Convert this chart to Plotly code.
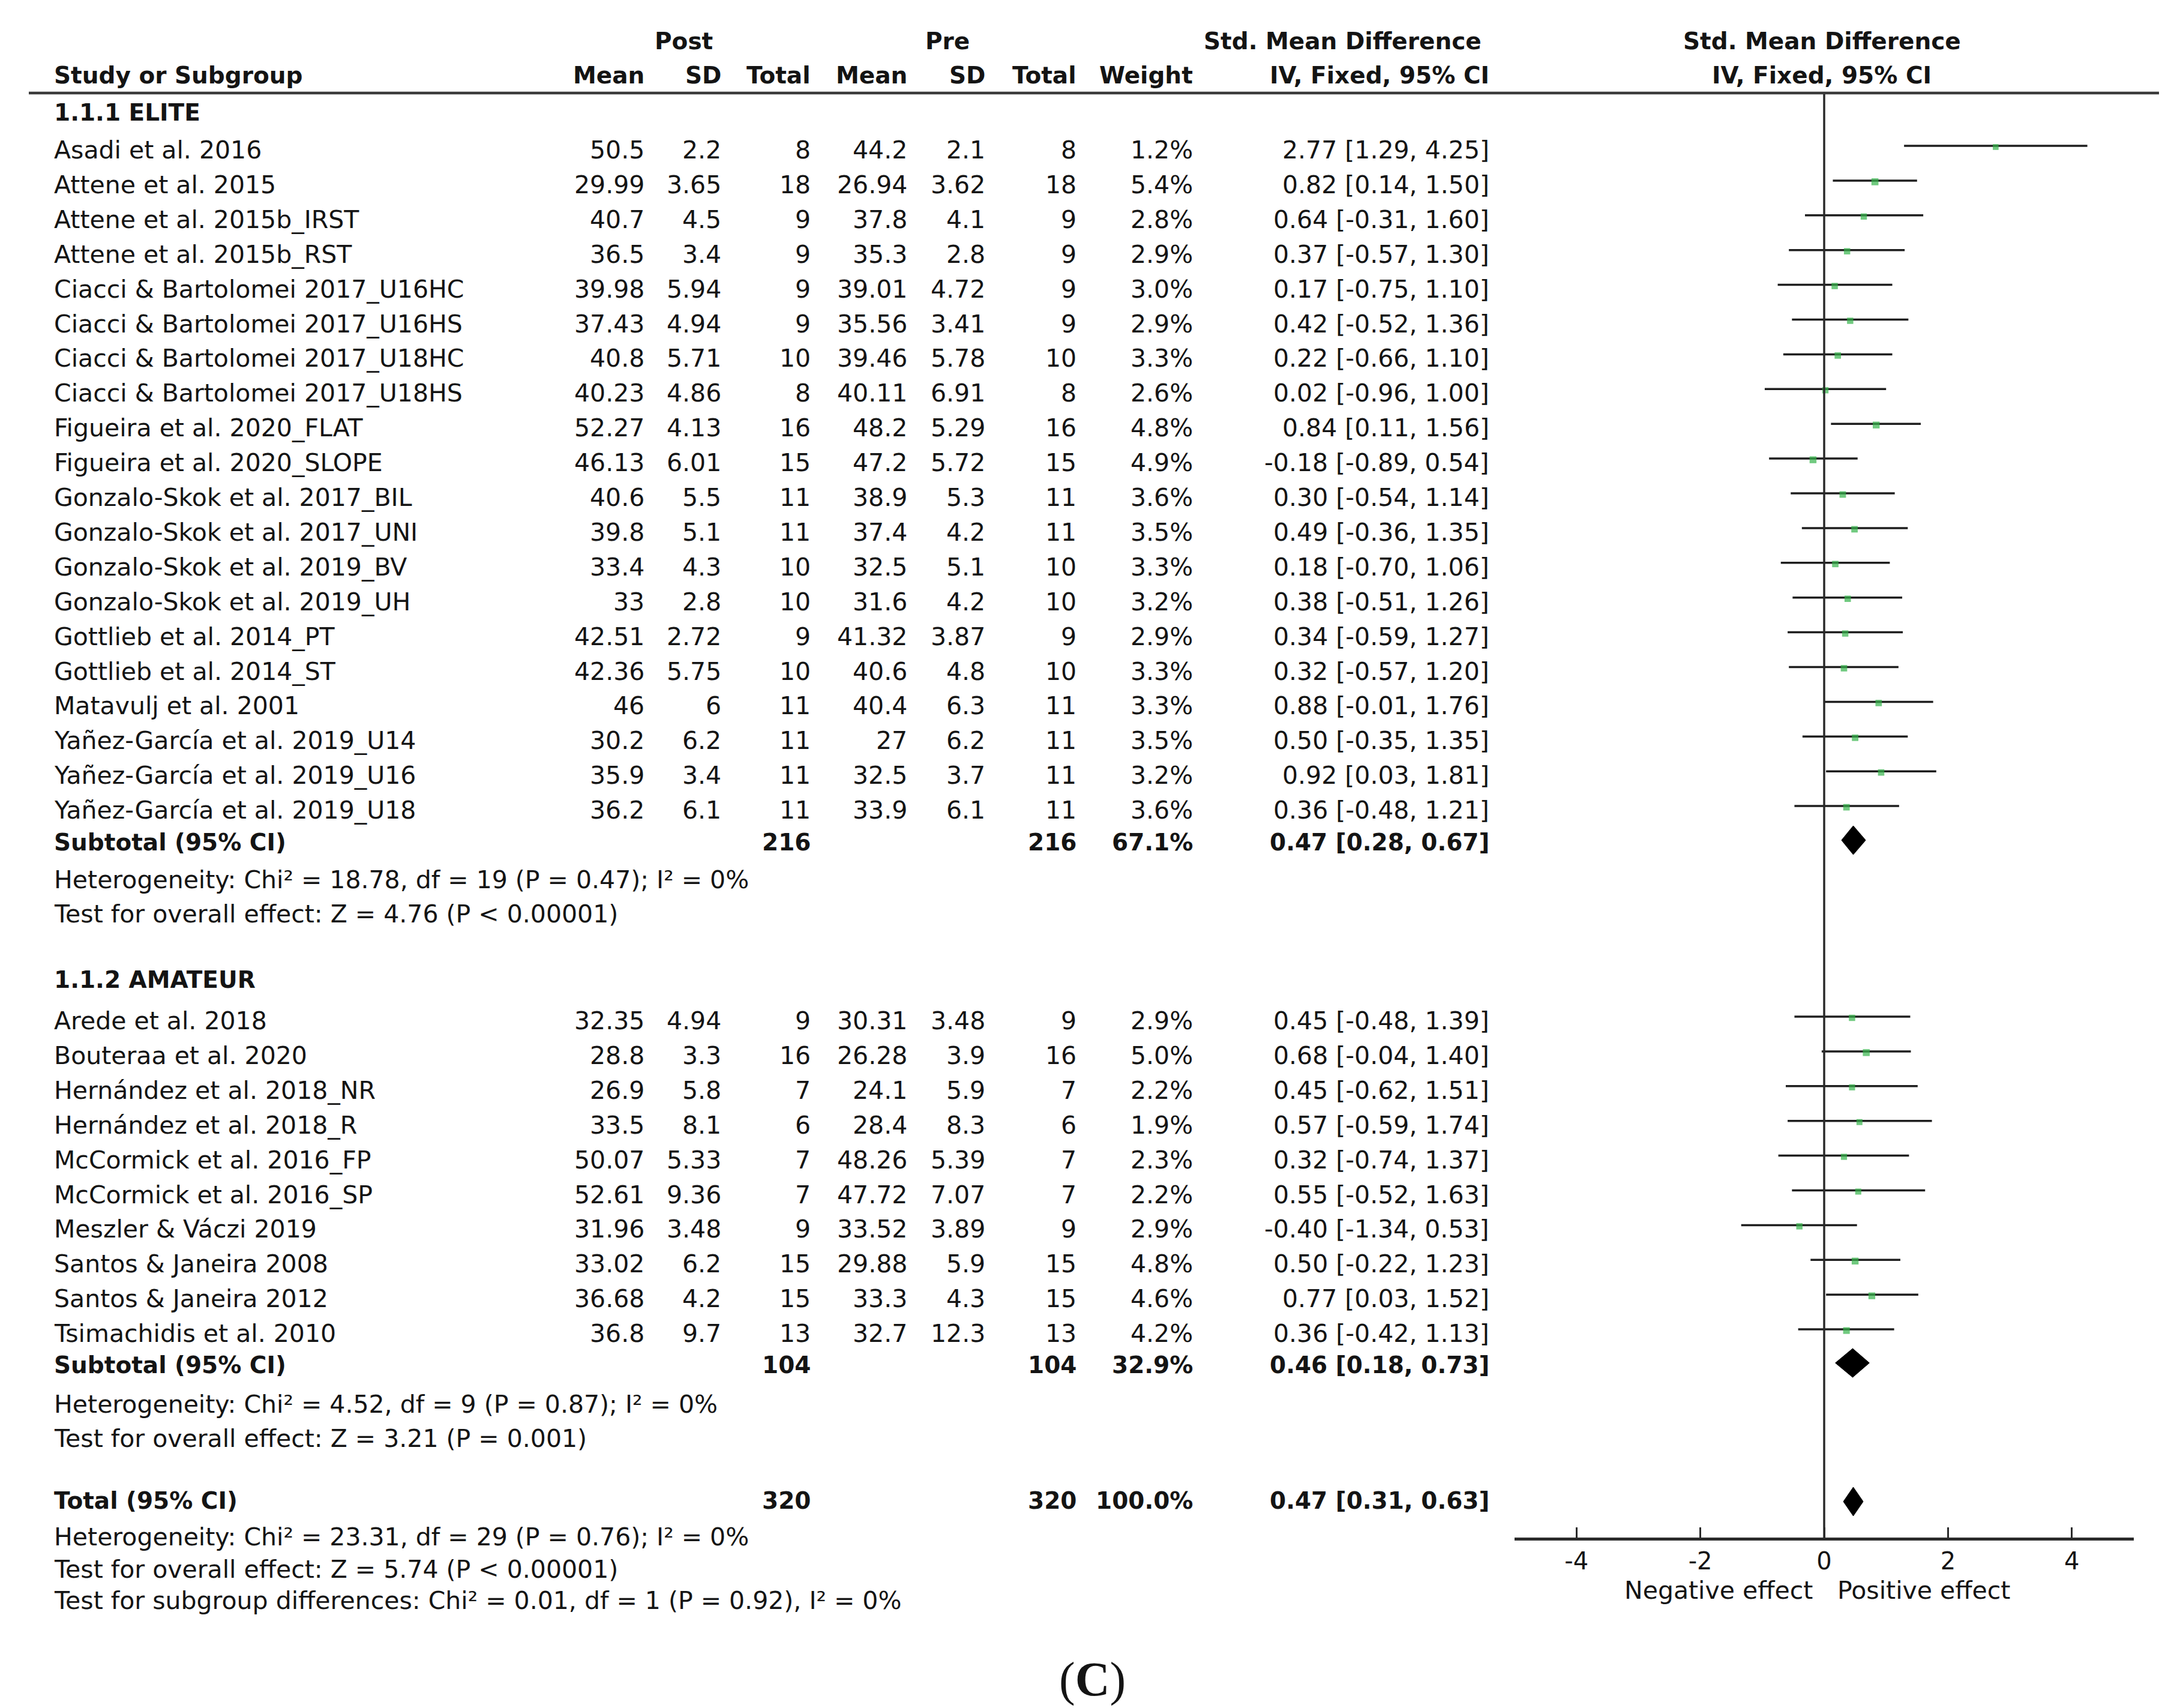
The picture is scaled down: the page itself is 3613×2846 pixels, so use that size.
import plotly.graph_objects as go

W, H = 3613, 2846

# ---------------- data ----------------
elite_names = ["Asadi et al. 2016", "Attene et al. 2015", "Attene et al. 2015b_IRST", "Attene et al. 2015b_RST",
               "Ciacci & Bartolomei 2017_U16HC", "Ciacci & Bartolomei 2017_U16HS", "Ciacci & Bartolomei 2017_U18HC",
               "Ciacci & Bartolomei 2017_U18HS", "Figueira et al. 2020_FLAT", "Figueira et al. 2020_SLOPE",
               "Gonzalo-Skok et al. 2017_BIL", "Gonzalo-Skok et al. 2017_UNI", "Gonzalo-Skok et al. 2019_BV",
               "Gonzalo-Skok et al. 2019_UH", "Gottlieb et al. 2014_PT", "Gottlieb et al. 2014_ST",
               "Matavulj et al. 2001", "Yañez-García et al. 2019_U14", "Yañez-García et al. 2019_U16",
               "Yañez-García et al. 2019_U18"]
elite_post_mean = [50.5, 29.99, 40.7, 36.5, 39.98, 37.43, 40.8, 40.23, 52.27, 46.13, 40.6, 39.8, 33.4, 33, 42.51, 42.36, 46, 30.2, 35.9, 36.2]
elite_post_sd = [2.2, 3.65, 4.5, 3.4, 5.94, 4.94, 5.71, 4.86, 4.13, 6.01, 5.5, 5.1, 4.3, 2.8, 2.72, 5.75, 6, 6.2, 3.4, 6.1]
elite_post_n = [8, 18, 9, 9, 9, 9, 10, 8, 16, 15, 11, 11, 10, 10, 9, 10, 11, 11, 11, 11]
elite_pre_mean = [44.2, 26.94, 37.8, 35.3, 39.01, 35.56, 39.46, 40.11, 48.2, 47.2, 38.9, 37.4, 32.5, 31.6, 41.32, 40.6, 40.4, 27, 32.5, 33.9]
elite_pre_sd = [2.1, 3.62, 4.1, 2.8, 4.72, 3.41, 5.78, 6.91, 5.29, 5.72, 5.3, 4.2, 5.1, 4.2, 3.87, 4.8, 6.3, 6.2, 3.7, 6.1]
elite_pre_n = [8, 18, 9, 9, 9, 9, 10, 8, 16, 15, 11, 11, 10, 10, 9, 10, 11, 11, 11, 11]
elite_weight = [1.2, 5.4, 2.8, 2.9, 3.0, 2.9, 3.3, 2.6, 4.8, 4.9, 3.6, 3.5, 3.3, 3.2, 2.9, 3.3, 3.3, 3.5, 3.2, 3.6]
elite_smd = [2.77, 0.82, 0.64, 0.37, 0.17, 0.42, 0.22, 0.02, 0.84, -0.18, 0.30, 0.49, 0.18, 0.38, 0.34, 0.32, 0.88, 0.50, 0.92, 0.36]
elite_lo = [1.29, 0.14, -0.31, -0.57, -0.75, -0.52, -0.66, -0.96, 0.11, -0.89, -0.54, -0.36, -0.70, -0.51, -0.59, -0.57, -0.01, -0.35, 0.03, -0.48]
elite_hi = [4.25, 1.50, 1.60, 1.30, 1.10, 1.36, 1.10, 1.00, 1.56, 0.54, 1.14, 1.35, 1.06, 1.26, 1.27, 1.20, 1.76, 1.35, 1.81, 1.21]

amat_names = ["Arede et al. 2018", "Bouteraa et al. 2020", "Hernández et al. 2018_NR", "Hernández et al. 2018_R",
              "McCormick et al. 2016_FP", "McCormick et al. 2016_SP", "Meszler & Váczi 2019",
              "Santos & Janeira 2008", "Santos & Janeira 2012", "Tsimachidis et al. 2010"]
amat_post_mean = [32.35, 28.8, 26.9, 33.5, 50.07, 52.61, 31.96, 33.02, 36.68, 36.8]
amat_post_sd = [4.94, 3.3, 5.8, 8.1, 5.33, 9.36, 3.48, 6.2, 4.2, 9.7]
amat_post_n = [9, 16, 7, 6, 7, 7, 9, 15, 15, 13]
amat_pre_mean = [30.31, 26.28, 24.1, 28.4, 48.26, 47.72, 33.52, 29.88, 33.3, 32.7]
amat_pre_sd = [3.48, 3.9, 5.9, 8.3, 5.39, 7.07, 3.89, 5.9, 4.3, 12.3]
amat_pre_n = [9, 16, 7, 6, 7, 7, 9, 15, 15, 13]
amat_weight = [2.9, 5.0, 2.2, 1.9, 2.3, 2.2, 2.9, 4.8, 4.6, 4.2]
amat_smd = [0.45, 0.68, 0.45, 0.57, 0.32, 0.55, -0.40, 0.50, 0.77, 0.36]
amat_lo = [-0.48, -0.04, -0.62, -0.59, -0.74, -0.52, -1.34, -0.22, 0.03, -0.42]
amat_hi = [1.39, 1.40, 1.51, 1.74, 1.37, 1.63, 0.53, 1.23, 1.52, 1.13]

group_titles = ["1.1.1 ELITE", "1.1.2 AMATEUR"]
sub_n_post = [216, 104]
sub_n_pre = [216, 104]
sub_weight = [67.1, 32.9]
sub_smd = [0.47, 0.46]
sub_lo = [0.28, 0.18]
sub_hi = [0.67, 0.73]
sub_chi2 = [18.78, 4.52]
sub_df = [19, 9]
sub_p = [0.47, 0.87]
sub_i2 = [0, 0]
sub_z = [4.76, 3.21]
sub_pz = ["< 0.00001", "= 0.001"]

tot_n_post, tot_n_pre, tot_weight = 320, 320, 100.0
tot_smd, tot_lo, tot_hi = 0.47, 0.31, 0.63
tot_chi2, tot_df, tot_p, tot_i2 = 23.31, 29, 0.76, 0
tot_z, tot_pz = 5.74, "< 0.00001"
diff_chi2, diff_df, diff_p, diff_i2 = 0.01, 1, 0.92, 0

x_ticks = [-4, -2, 0, 2, 4]
x_range = [-5, 5]

# ---------------- layout constants (pixels) ----------------
FONT = "DejaVu Sans"
REG = 41
BOLD = 39
COL = "#141414"
X_NAME = 80
X_POST_MEAN, X_POST_SD, X_POST_N = 1068, 1196, 1345
X_PRE_MEAN, X_PRE_SD, X_PRE_N = 1506, 1636, 1788
X_WEIGHT, X_CI = 1982, 2476
FOREST_L, FOREST_R = 2516, 3548
AXIS_Y = 2554
HEADER_LINE_Y = 147
PITCH = 57.9
TEXT_DY = 0   # text box offset relative to visual centre

annotations = []


def ann(text, x, y, anchor="left", bold=False, size=None, family=FONT):
    if bold:
        text = "<b>" + text + "</b>"
    annotations.append(dict(
        text=text, x=x / W, y=1 - (y + TEXT_DY) / H, xref="paper", yref="paper",
        xanchor=anchor, yanchor="middle", showarrow=False,
        font=dict(family=family, size=size or (BOLD if bold else REG), color=COL),
    ))


def ci_text(e, lo, hi):
    return f"{e:.2f} [{lo:.2f}, {hi:.2f}]"


# headers
ann("Post", 1131, 61, "center", True)
ann("Pre", 1571, 61, "center", True)
ann("Std. Mean Difference", 2229, 61, "center", True)
ann("Std. Mean Difference", 3028, 61, "center", True)
ann("Study or Subgroup", X_NAME, 117, "left", True)
for txt, xx in [("Mean", X_POST_MEAN), ("SD", X_POST_SD), ("Total", X_POST_N),
                ("Mean", X_PRE_MEAN), ("SD", X_PRE_SD), ("Total", X_PRE_N),
                ("Weight", X_WEIGHT), ("IV, Fixed, 95% CI", X_CI)]:
    ann(txt, xx, 117, "right", True)
ann("IV, Fixed, 95% CI", 3028, 117, "center", True)

groups = [
    (elite_names, elite_post_mean, elite_post_sd, elite_post_n, elite_pre_mean, elite_pre_sd, elite_pre_n,
     elite_weight, elite_smd, elite_lo, elite_hi),
    (amat_names, amat_post_mean, amat_post_sd, amat_post_n, amat_pre_mean, amat_pre_sd, amat_pre_n,
     amat_weight, amat_smd, amat_lo, amat_hi),
]
group_title_y = [179, 1624]
group_first_y = [242, 1693]
sub_y = [1395, 2266]
het_y = [1458, 2332]
test_y = [1515, 2389]

ci_x, ci_y = [], []
mk_x, mk_y, mk_s = [], [], []
diamonds = []

for g, data in enumerate(groups):
    names, pm, psd, pn, qm, qsd, qn, wt, smd, lo, hi = data
    ann(group_titles[g], X_NAME, group_title_y[g], "left", True)
    for i in range(len(names)):
        y = group_first_y[g] + i * PITCH
        ann(names[i], X_NAME, y)
        ann(str(pm[i]), X_POST_MEAN, y, "right")
        ann(str(psd[i]), X_POST_SD, y, "right")
        ann(str(pn[i]), X_POST_N, y, "right")
        ann(str(qm[i]), X_PRE_MEAN, y, "right")
        ann(str(qsd[i]), X_PRE_SD, y, "right")
        ann(str(qn[i]), X_PRE_N, y, "right")
        ann(f"{wt[i]:.1f}%", X_WEIGHT, y, "right")
        ann(ci_text(smd[i], lo[i], hi[i]), X_CI, y, "right")
        ly = y - 7
        ci_x += [lo[i], hi[i], None]
        ci_y += [ly, ly, None]
        mk_x.append(smd[i])
        mk_y.append(ly + 2)
        mk_s.append(9 + 0.5 * wt[i])
    ys = sub_y[g]
    ann("Subtotal (95% CI)", X_NAME, ys, "left", True)
    ann(str(sub_n_post[g]), X_POST_N, ys, "right", True)
    ann(str(sub_n_pre[g]), X_PRE_N, ys, "right", True)
    ann(f"{sub_weight[g]:.1f}%", X_WEIGHT, ys, "right", True)
    ann(ci_text(sub_smd[g], sub_lo[g], sub_hi[g]), X_CI, ys, "right", True)
    diamonds.append((sub_lo[g], sub_smd[g], sub_hi[g], ys - 3))
    ann(f"Heterogeneity: Chi² = {sub_chi2[g]:.2f}, df = {sub_df[g]} (P = {sub_p[g]:.2f}); "
        f"I² = {sub_i2[g]}%", X_NAME, het_y[g])
    ann(f"Test for overall effect: Z = {sub_z[g]:.2f} (P {sub_pz[g]})", X_NAME, test_y[g])

# total
YT = 2492
ann("Total (95% CI)", X_NAME, YT, "left", True)
ann(str(tot_n_post), X_POST_N, YT, "right", True)
ann(str(tot_n_pre), X_PRE_N, YT, "right", True)
ann(f"{tot_weight:.1f}%", X_WEIGHT, YT, "right", True)
ann(ci_text(tot_smd, tot_lo, tot_hi), X_CI, YT, "right", True)
diamonds.append((tot_lo, tot_smd, tot_hi, YT + 2))
ann(f"Heterogeneity: Chi² = {tot_chi2:.2f}, df = {tot_df} (P = {tot_p:.2f}); "
    f"I² = {tot_i2}%", X_NAME, 2553)
ann(f"Test for overall effect: Z = {tot_z:.2f} (P {tot_pz})", X_NAME, 2607)
ann(f"Test for subgroup differences: Chi² = {diff_chi2:.2f}, df = {diff_df} (P = {diff_p:.2f}), "
    f"I² = {diff_i2}%", X_NAME, 2659)

ann("Negative effect", 3015, 2642, "right")
ann("Positive effect", 3052, 2642, "left")
ann("(<b>C</b>)", 1812, 2790, "center", size=80, family="Liberation Serif")

# ---------------- figure ----------------
fig = go.Figure()
fig.add_trace(go.Scatter(x=ci_x, y=ci_y, mode="lines", line=dict(color="#1e1e1e", width=3.5),
                         hoverinfo="skip", showlegend=False))
for lo, e, hi, yc in diamonds:
    h = 24
    fig.add_trace(go.Scatter(x=[lo, e, hi, e, lo], y=[yc, yc - h, yc, yc + h, yc], mode="lines",
                             fill="toself", fillcolor="black", line=dict(color="black", width=1),
                             hoverinfo="skip", showlegend=False))
fig.add_trace(go.Scatter(x=mk_x, y=mk_y, mode="markers",
                         marker=dict(symbol="square", size=mk_s, color="#35b34a", line=dict(width=0)),
                         hoverinfo="skip", showlegend=False))

fig.add_shape(type="line", xref="x", yref="y", x0=0, x1=0, y0=HEADER_LINE_Y, y1=AXIS_Y,
              line=dict(color="#2a2a2a", width=3.5))
fig.add_shape(type="line", xref="paper", yref="paper", x0=40 / W, x1=3590 / W,
              y0=1 - HEADER_LINE_Y / H, y1=1 - HEADER_LINE_Y / H, line=dict(color="#3a3a3a", width=4.5))

fig.update_layout(
    width=W, height=H, margin=dict(l=0, r=0, t=0, b=0),
    paper_bgcolor="white", plot_bgcolor="rgba(0,0,0,0)",
    annotations=annotations, showlegend=False,
    xaxis=dict(domain=[FOREST_L / W, FOREST_R / W], range=x_range, showgrid=False, zeroline=False,
               showline=True, linewidth=5, linecolor="#2a2a2a", ticks="inside", ticklen=17, tickwidth=3,
               tickcolor="#2a2a2a", tickvals=x_ticks, ticktext=[str(t) for t in x_ticks],
               tickfont=dict(family=FONT, size=40, color=COL), anchor="y", fixedrange=True),
    yaxis=dict(domain=[1 - AXIS_Y / H, 1], range=[AXIS_Y, 0], visible=False, fixedrange=True),
)

fig.write_html("out.html")
